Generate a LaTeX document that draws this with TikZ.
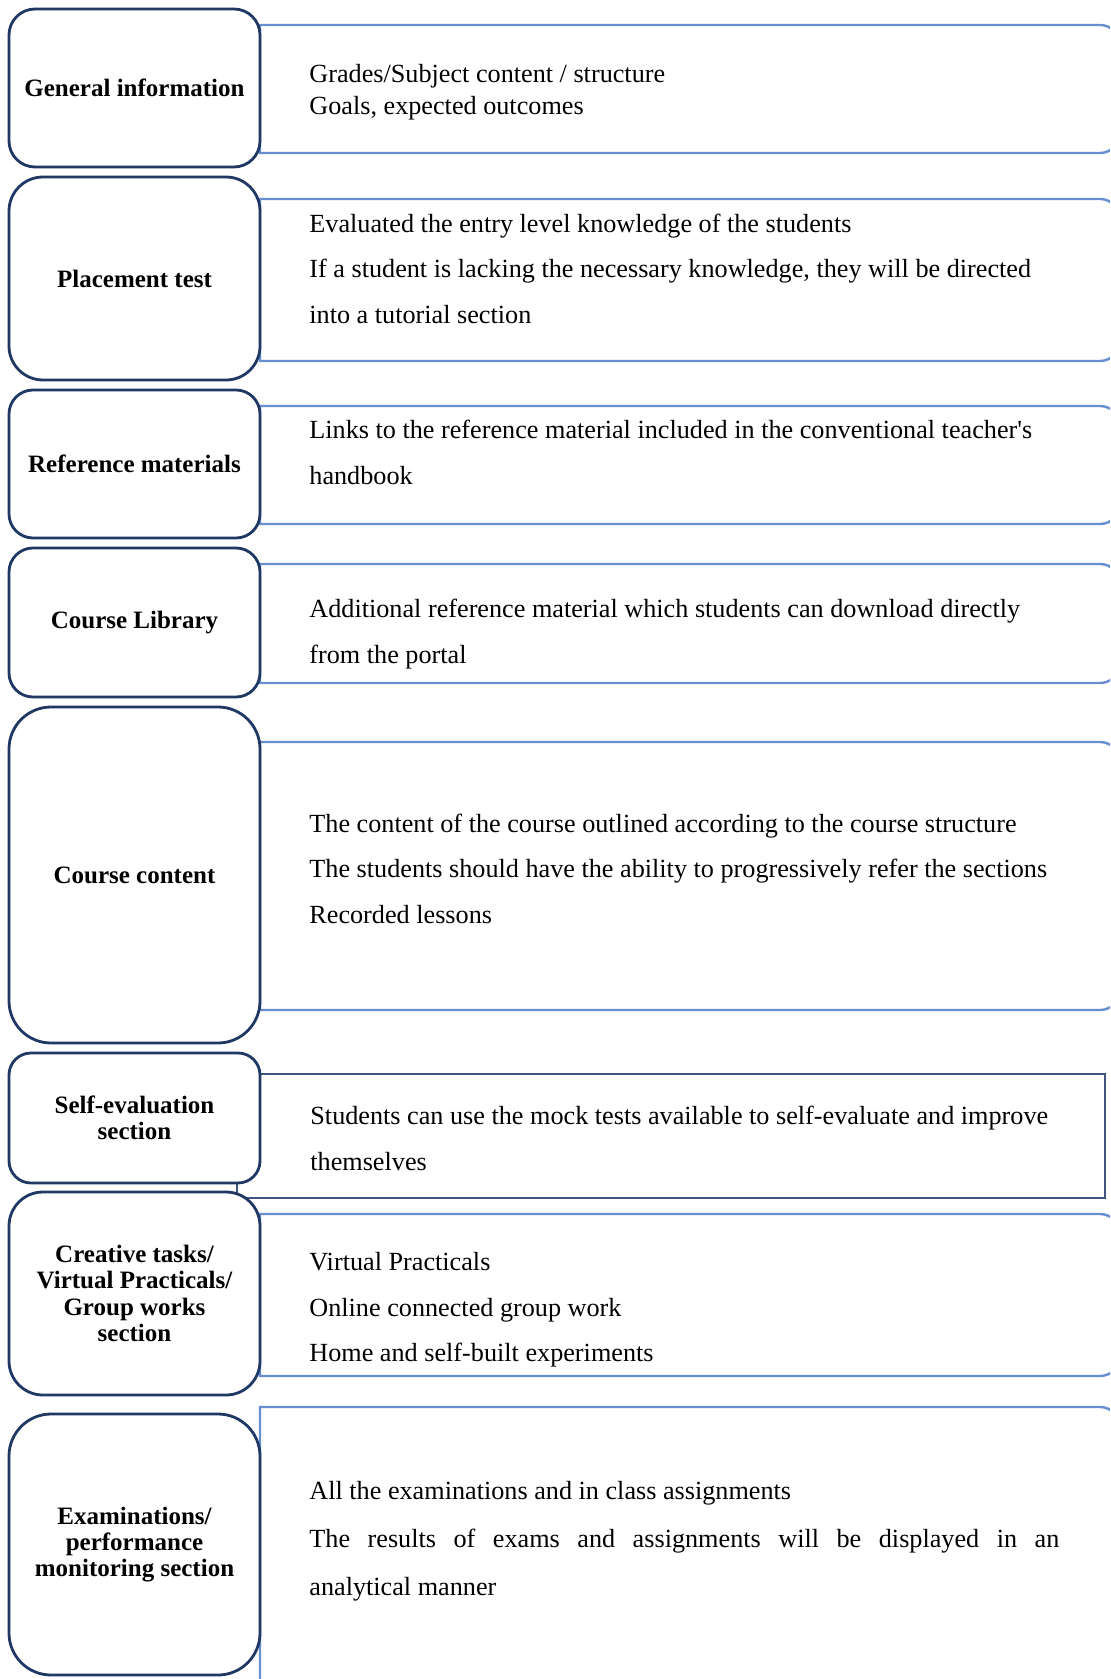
\documentclass[tikz,border=0pt]{standalone}
\usepackage{fontspec}
\setmainfont{Liberation Serif}
\usetikzlibrary{positioning}

\definecolor{navy}{RGB}{31,56,100}
\definecolor{lineblue}{RGB}{104,142,210}
\definecolor{slate}{RGB}{62,84,124}

% description frame: square on the left, rounded on the right (top, bottom in px)
\newcommand{\descbox}[2]{%
  \draw[desc] (260,#1) -- (1100,#1) arc[start angle=90, end angle=0, radius=10pt]
    -- (1120,#2-20) arc[start angle=0, end angle=-90, radius=10pt] -- (260,#2) -- cycle;}

\begin{document}
\begin{tikzpicture}[
  x=0.5pt, y=-0.5pt,
  head/.style={draw=navy, line width=1.4pt, fill=white, align=center,
    font=\bfseries\fontsize{12.5}{13.2}\selectfont,
    minimum width=125.5pt, inner sep=0pt, outer sep=0pt},
  desc/.style={draw=lineblue, line width=1.2pt},
  note/.style={anchor=west, align=left, inner sep=0pt,
    font=\fontsize{13.1}{22.75}\selectfont}
]
\useasboundingbox (0,0) rectangle (1110,1679);
\fill[white] (0,0) rectangle (1110,1679);
\clip (0,0) rectangle (1110,1679);

% right-hand frames
\descbox{25}{153}
\descbox{199}{361}
\descbox{406}{524}
\descbox{564}{683}
\descbox{742}{1010}
\draw[slate, line width=0.9pt] (237,1074) rectangle (1105,1198);
\descbox{1214}{1376}
\descbox{1407}{1690}

% left-hand headings
\node[head, minimum height=79pt, rounded corners=13pt] (gen) at (134.5,88) {General information};
\node[head, minimum height=101.5pt, rounded corners=17pt, below=5pt of gen] (place) {Placement test};
\node[head, minimum height=74pt, rounded corners=12pt, below=5pt of place] (refmat) {Reference materials};
\node[head, minimum height=74.5pt, rounded corners=12pt, below=5pt of refmat] (lib) {Course Library};
\node[head, minimum height=168pt, rounded corners=21pt, below=5pt of lib] (content) {Course content};
\node[head, minimum height=65pt, rounded corners=11pt, below=5pt of content] (selfev) {Self-evaluation\\section};
\node[head, minimum height=101.5pt, rounded corners=17pt, below=4.5pt of selfev] (creative) {Creative tasks/\\Virtual Practicals/\\Group works\\section};
\node[head, minimum height=130.5pt, rounded corners=21pt, below=9.5pt of creative] (exam) {Examinations/\\performance\\monitoring section};

% descriptions
\node[note, font=\fontsize{13.1}{16}\selectfont] (gentext) at (309,92) {Grades/Subject content / structure\\Goals, expected outcomes};
\node[note] (placetext) at (309,268.5) {Evaluated the entry level knowledge of the students\\If a student is lacking the necessary knowledge, they will be directed\\into a tutorial section};
\node[note] (refmattext) at (309,452.5) {Links to the reference material included in the conventional teacher\textquotesingle s\\handbook};
\node[note] (libtext) at (309,634) {Additional reference material which students can download directly\\from the portal};
\node[note] (contenttext) at (309,868.5) {The content of the course outlined according to the course structure\\The students should have the ability to progressively refer the sections\\Recorded lessons};
\node[note] (selfevtext) at (310,1138.5) {Students can use the mock tests available to self-evaluate and improve\\themselves};
\node[note] (creativetext) at (309,1310) {Virtual Practicals\\Online connected group work\\Home and self-built experiments};
\node[note, font=\fontsize{13.1}{24}\selectfont] (examtext) at (309,1541) {All the examinations and in class assignments\\\makebox[375pt][s]{The results of exams and assignments will be displayed in an}\\analytical manner};
\end{tikzpicture}
\end{document}
